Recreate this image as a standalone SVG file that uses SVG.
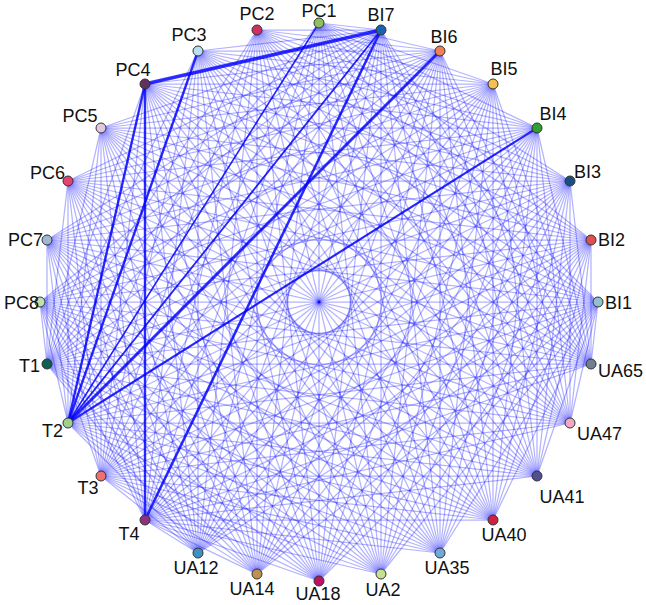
<svg xmlns="http://www.w3.org/2000/svg" width="646" height="605" viewBox="0 0 646 605">
<style>
#edges path{fill:none;stroke:#0000ff;stroke-opacity:0.3;stroke-width:1.25}
#heavy path{fill:none;stroke:#0000ff;stroke-opacity:0.8;stroke-linecap:round}
.n circle{stroke:#333;stroke-width:1}
.n text{font-family:"Liberation Sans",Arial,sans-serif;font-size:18px;fill:#111}
.m{text-anchor:middle}.s{text-anchor:start}.e{text-anchor:end}
</style>
<rect width="646" height="605" fill="#fff"/>
<g id="edges">
<path d="M319 23L381 30"/><path d="M319 23L440 51"/><path d="M319 23L493 84"/><path d="M319 23L537 128"/><path d="M319 23L570 181"/><path d="M319 23L591 240"/><path d="M319 23L598 302"/><path d="M319 23L591 364"/><path d="M319 23L570 423"/><path d="M319 23L537 476"/><path d="M319 23L493 520"/><path d="M319 23L440 553"/><path d="M319 23L381 574"/><path d="M319 23L319 581"/><path d="M319 23L257 574"/><path d="M319 23L198 553"/><path d="M319 23L145 520"/><path d="M319 23L101 476"/><path d="M319 23L68 423"/><path d="M319 23L47 364"/>
<path d="M381 30L591 364"/><path d="M381 30L570 423"/><path d="M381 30L537 476"/><path d="M381 30L493 520"/><path d="M381 30L440 553"/><path d="M381 30L381 574"/><path d="M381 30L319 581"/><path d="M381 30L257 574"/><path d="M381 30L198 553"/><path d="M381 30L145 520"/><path d="M381 30L101 476"/><path d="M381 30L68 423"/><path d="M381 30L47 364"/><path d="M381 30L40 302"/><path d="M381 30L47 240"/><path d="M381 30L68 181"/><path d="M381 30L101 128"/><path d="M381 30L145 84"/><path d="M381 30L198 51"/><path d="M381 30L257 30"/>
<path d="M440 51L591 364"/><path d="M440 51L570 423"/><path d="M440 51L537 476"/><path d="M440 51L493 520"/><path d="M440 51L440 553"/><path d="M440 51L381 574"/><path d="M440 51L319 581"/><path d="M440 51L257 574"/><path d="M440 51L198 553"/><path d="M440 51L145 520"/><path d="M440 51L101 476"/><path d="M440 51L68 423"/><path d="M440 51L47 364"/><path d="M440 51L40 302"/><path d="M440 51L47 240"/><path d="M440 51L68 181"/><path d="M440 51L101 128"/><path d="M440 51L145 84"/><path d="M440 51L198 51"/><path d="M440 51L257 30"/>
<path d="M493 84L591 364"/><path d="M493 84L570 423"/><path d="M493 84L537 476"/><path d="M493 84L493 520"/><path d="M493 84L440 553"/><path d="M493 84L381 574"/><path d="M493 84L319 581"/><path d="M493 84L257 574"/><path d="M493 84L198 553"/><path d="M493 84L145 520"/><path d="M493 84L101 476"/><path d="M493 84L68 423"/><path d="M493 84L47 364"/><path d="M493 84L40 302"/><path d="M493 84L47 240"/><path d="M493 84L68 181"/><path d="M493 84L101 128"/><path d="M493 84L145 84"/><path d="M493 84L198 51"/><path d="M493 84L257 30"/>
<path d="M537 128L591 364"/><path d="M537 128L570 423"/><path d="M537 128L537 476"/><path d="M537 128L493 520"/><path d="M537 128L440 553"/><path d="M537 128L381 574"/><path d="M537 128L319 581"/><path d="M537 128L257 574"/><path d="M537 128L198 553"/><path d="M537 128L145 520"/><path d="M537 128L101 476"/><path d="M537 128L68 423"/><path d="M537 128L47 364"/><path d="M537 128L40 302"/><path d="M537 128L47 240"/><path d="M537 128L68 181"/><path d="M537 128L101 128"/><path d="M537 128L145 84"/><path d="M537 128L198 51"/><path d="M537 128L257 30"/>
<path d="M570 181L591 364"/><path d="M570 181L570 423"/><path d="M570 181L537 476"/><path d="M570 181L493 520"/><path d="M570 181L440 553"/><path d="M570 181L381 574"/><path d="M570 181L319 581"/><path d="M570 181L257 574"/><path d="M570 181L198 553"/><path d="M570 181L145 520"/><path d="M570 181L101 476"/><path d="M570 181L68 423"/><path d="M570 181L47 364"/><path d="M570 181L40 302"/><path d="M570 181L47 240"/><path d="M570 181L68 181"/><path d="M570 181L101 128"/><path d="M570 181L145 84"/><path d="M570 181L198 51"/><path d="M570 181L257 30"/>
<path d="M591 240L591 364"/><path d="M591 240L570 423"/><path d="M591 240L537 476"/><path d="M591 240L493 520"/><path d="M591 240L440 553"/><path d="M591 240L381 574"/><path d="M591 240L319 581"/><path d="M591 240L257 574"/><path d="M591 240L198 553"/><path d="M591 240L145 520"/><path d="M591 240L101 476"/><path d="M591 240L68 423"/><path d="M591 240L47 364"/><path d="M591 240L40 302"/><path d="M591 240L47 240"/><path d="M591 240L68 181"/><path d="M591 240L101 128"/><path d="M591 240L145 84"/><path d="M591 240L198 51"/><path d="M591 240L257 30"/>
<path d="M598 302L591 364"/><path d="M598 302L570 423"/><path d="M598 302L537 476"/><path d="M598 302L493 520"/><path d="M598 302L440 553"/><path d="M598 302L381 574"/><path d="M598 302L319 581"/><path d="M598 302L257 574"/><path d="M598 302L198 553"/><path d="M598 302L145 520"/><path d="M598 302L101 476"/><path d="M598 302L68 423"/><path d="M598 302L47 364"/><path d="M598 302L40 302"/><path d="M598 302L47 240"/><path d="M598 302L68 181"/><path d="M598 302L101 128"/><path d="M598 302L145 84"/><path d="M598 302L198 51"/><path d="M598 302L257 30"/>
<path d="M591 364L145 520"/><path d="M591 364L101 476"/><path d="M591 364L68 423"/><path d="M591 364L47 364"/><path d="M591 364L40 302"/><path d="M591 364L47 240"/><path d="M591 364L68 181"/><path d="M591 364L101 128"/><path d="M591 364L145 84"/><path d="M591 364L198 51"/><path d="M591 364L257 30"/>
<path d="M570 423L145 520"/><path d="M570 423L101 476"/><path d="M570 423L68 423"/><path d="M570 423L47 364"/><path d="M570 423L40 302"/><path d="M570 423L47 240"/><path d="M570 423L68 181"/><path d="M570 423L101 128"/><path d="M570 423L145 84"/><path d="M570 423L198 51"/><path d="M570 423L257 30"/>
<path d="M537 476L145 520"/><path d="M537 476L101 476"/><path d="M537 476L68 423"/><path d="M537 476L47 364"/><path d="M537 476L40 302"/><path d="M537 476L47 240"/><path d="M537 476L68 181"/><path d="M537 476L101 128"/><path d="M537 476L145 84"/><path d="M537 476L198 51"/><path d="M537 476L257 30"/>
<path d="M493 520L145 520"/><path d="M493 520L101 476"/><path d="M493 520L68 423"/><path d="M493 520L47 364"/><path d="M493 520L40 302"/><path d="M493 520L47 240"/><path d="M493 520L68 181"/><path d="M493 520L101 128"/><path d="M493 520L145 84"/><path d="M493 520L198 51"/><path d="M493 520L257 30"/>
<path d="M440 553L145 520"/><path d="M440 553L101 476"/><path d="M440 553L68 423"/><path d="M440 553L47 364"/><path d="M440 553L40 302"/><path d="M440 553L47 240"/><path d="M440 553L68 181"/><path d="M440 553L101 128"/><path d="M440 553L145 84"/><path d="M440 553L198 51"/><path d="M440 553L257 30"/>
<path d="M381 574L145 520"/><path d="M381 574L101 476"/><path d="M381 574L68 423"/><path d="M381 574L47 364"/><path d="M381 574L40 302"/><path d="M381 574L47 240"/><path d="M381 574L68 181"/><path d="M381 574L101 128"/><path d="M381 574L145 84"/><path d="M381 574L198 51"/><path d="M381 574L257 30"/>
<path d="M319 581L145 520"/><path d="M319 581L101 476"/><path d="M319 581L68 423"/><path d="M319 581L47 364"/><path d="M319 581L40 302"/><path d="M319 581L47 240"/><path d="M319 581L68 181"/><path d="M319 581L101 128"/><path d="M319 581L145 84"/><path d="M319 581L198 51"/><path d="M319 581L257 30"/>
<path d="M257 574L145 520"/><path d="M257 574L101 476"/><path d="M257 574L68 423"/><path d="M257 574L47 364"/><path d="M257 574L40 302"/><path d="M257 574L47 240"/><path d="M257 574L68 181"/><path d="M257 574L101 128"/><path d="M257 574L145 84"/><path d="M257 574L198 51"/><path d="M257 574L257 30"/>
<path d="M198 553L145 520"/><path d="M198 553L101 476"/><path d="M198 553L68 423"/><path d="M198 553L47 364"/><path d="M198 553L40 302"/><path d="M198 553L47 240"/><path d="M198 553L68 181"/><path d="M198 553L101 128"/><path d="M198 553L145 84"/><path d="M198 553L198 51"/><path d="M198 553L257 30"/>
<path d="M145 520L40 302"/><path d="M145 520L47 240"/><path d="M145 520L68 181"/><path d="M145 520L101 128"/><path d="M145 520L145 84"/><path d="M145 520L198 51"/><path d="M145 520L257 30"/>
<path d="M101 476L40 302"/><path d="M101 476L47 240"/><path d="M101 476L68 181"/><path d="M101 476L101 128"/><path d="M101 476L145 84"/><path d="M101 476L198 51"/><path d="M101 476L257 30"/>
<path d="M68 423L40 302"/><path d="M68 423L47 240"/><path d="M68 423L68 181"/><path d="M68 423L101 128"/><path d="M68 423L145 84"/><path d="M68 423L198 51"/><path d="M68 423L257 30"/>
<path d="M47 364L40 302"/><path d="M47 364L47 240"/><path d="M47 364L68 181"/><path d="M47 364L101 128"/><path d="M47 364L145 84"/><path d="M47 364L198 51"/><path d="M47 364L257 30"/>
</g>
<g id="heavy">
<path d="M145 84L381 30" stroke-width="3.6"/>
<path d="M145 84L145 520" stroke-width="2.4"/>
<path d="M145 84L68 423" stroke-width="2.4"/>
<path d="M198 51L68 423" stroke-width="2.4"/>
<path d="M381 30L145 520" stroke-width="2.6"/>
<path d="M440 51L68 423" stroke-width="3"/>
<path d="M537 128L68 423" stroke-width="2.2"/>
<path d="M381 30L68 423" stroke-width="1.8"/>
<path d="M319 23L68 423" stroke-width="1.6"/>
</g>
<g id="n-PC1" class="n"><circle cx="319" cy="23" r="5" fill="#8fc060"/><text class="m" x="319" y="17">PC1</text></g>
<g id="n-BI7" class="n"><circle cx="381" cy="30" r="5" fill="#1a62b0"/><text class="m" x="381" y="21">BI7</text></g>
<g id="n-BI6" class="n"><circle cx="440" cy="51" r="5" fill="#f08055"/><text class="m" x="444" y="43">BI6</text></g>
<g id="n-BI5" class="n"><circle cx="493" cy="84" r="5" fill="#f5c050"/><text class="m" x="504" y="75">BI5</text></g>
<g id="n-BI4" class="n"><circle cx="537" cy="128" r="5" fill="#30a030"/><text class="m" x="553" y="120">BI4</text></g>
<g id="n-BI3" class="n"><circle cx="570" cy="181" r="5" fill="#15507f"/><text class="s" x="574" y="178">BI3</text></g>
<g id="n-BI2" class="n"><circle cx="591" cy="240" r="5" fill="#e05050"/><text class="s" x="598" y="246">BI2</text></g>
<g id="n-BI1" class="n"><circle cx="598" cy="302" r="5" fill="#90c0d0"/><text class="s" x="605" y="309">BI1</text></g>
<g id="n-UA65" class="n"><circle cx="591" cy="364" r="5" fill="#708090"/><text class="s" x="598" y="377">UA65</text></g>
<g id="n-UA47" class="n"><circle cx="570" cy="423" r="5" fill="#f0a8c4"/><text class="s" x="577" y="440">UA47</text></g>
<g id="n-UA41" class="n"><circle cx="537" cy="476" r="5" fill="#505090"/><text class="m" x="562" y="503">UA41</text></g>
<g id="n-UA40" class="n"><circle cx="493" cy="520" r="5" fill="#d02040"/><text class="m" x="504" y="541">UA40</text></g>
<g id="n-UA35" class="n"><circle cx="440" cy="553" r="5" fill="#70a8d8"/><text class="m" x="447" y="574">UA35</text></g>
<g id="n-UA2" class="n"><circle cx="381" cy="574" r="5" fill="#c4e090"/><text class="m" x="383" y="596">UA2</text></g>
<g id="n-UA18" class="n"><circle cx="319" cy="581" r="5" fill="#c01060"/><text class="m" x="318" y="600">UA18</text></g>
<g id="n-UA14" class="n"><circle cx="257" cy="574" r="5" fill="#c09050"/><text class="m" x="252" y="595">UA14</text></g>
<g id="n-UA12" class="n"><circle cx="198" cy="553" r="5" fill="#4090c0"/><text class="m" x="196" y="574">UA12</text></g>
<g id="n-T4" class="n"><circle cx="145" cy="520" r="5" fill="#903080"/><text class="m" x="129" y="540">T4</text></g>
<g id="n-T3" class="n"><circle cx="101" cy="476" r="5" fill="#f07070"/><text class="m" x="88" y="494">T3</text></g>
<g id="n-T2" class="n"><circle cx="68" cy="423" r="5" fill="#a0d090"/><text class="e" x="63" y="437">T2</text></g>
<g id="n-T1" class="n"><circle cx="47" cy="364" r="5" fill="#106050"/><text class="e" x="40" y="372">T1</text></g>
<g id="n-PC8" class="n"><circle cx="40" cy="302" r="5" fill="#c0e0b0"/><text class="e" x="39" y="309">PC8</text></g>
<g id="n-PC7" class="n"><circle cx="47" cy="240" r="5" fill="#a0b8d0"/><text class="e" x="43" y="246">PC7</text></g>
<g id="n-PC6" class="n"><circle cx="68" cy="181" r="5" fill="#e84070"/><text class="e" x="65" y="179">PC6</text></g>
<g id="n-PC5" class="n"><circle cx="101" cy="128" r="5" fill="#e0c8e0"/><text class="m" x="80" y="122">PC5</text></g>
<g id="n-PC4" class="n"><circle cx="145" cy="84" r="5" fill="#603060"/><text class="m" x="133" y="76">PC4</text></g>
<g id="n-PC3" class="n"><circle cx="198" cy="51" r="5" fill="#b8e0f0"/><text class="m" x="189" y="41">PC3</text></g>
<g id="n-PC2" class="n"><circle cx="257" cy="30" r="5" fill="#d03060"/><text class="m" x="257" y="20">PC2</text></g>
</svg>
